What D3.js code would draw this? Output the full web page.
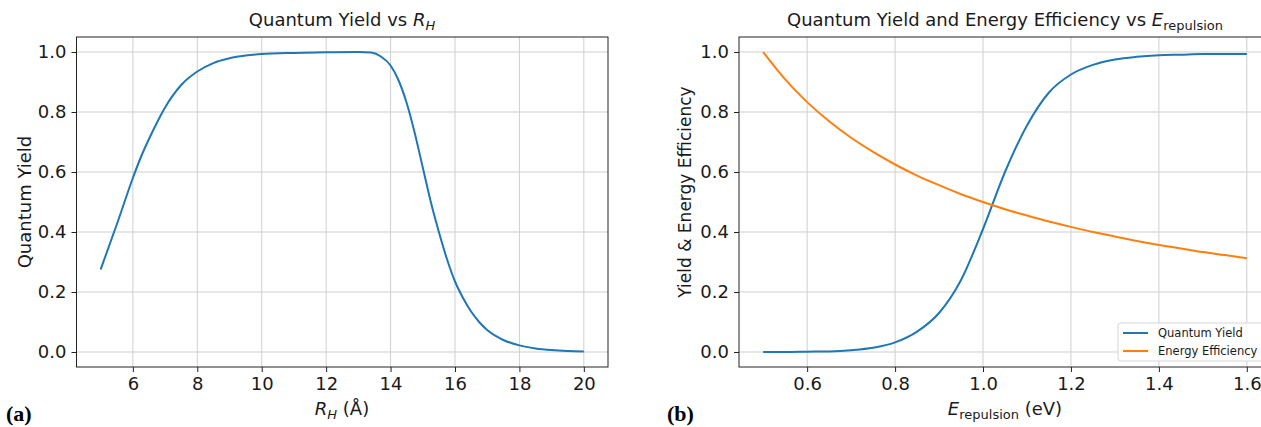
<!DOCTYPE html>
<html>
<head>
<meta charset="utf-8">
<script src="https://cdn.jsdelivr.net/npm/d3@7"></script>
<style>
  body { margin: 0; background: #fff; }
  svg { display: block; font-family: "DejaVu Sans", sans-serif; }
  .grid line { stroke: #cfcfcf; stroke-width: 1; }
  .tick text { font-size: 18px; fill: #1a1a1a; }
</style>
</head>
<body>
<div id="chart"></div>
<script>
// panel (a): quantum yield vs R_H
var rhVals = [5, 5.5, 6, 6.25, 6.5, 6.75, 7, 7.5, 8, 8.5, 9, 9.5, 10, 11, 12, 13, 13.4, 13.7, 14, 14.25, 14.5, 14.75, 15, 15.25, 15.5, 15.75, 16, 16.25, 16.5, 16.75, 17, 17.5, 18, 18.5, 19, 19.5, 20]
var yieldRh = [0.275, 0.425, 0.58, 0.65, 0.71, 0.765, 0.815, 0.89, 0.935, 0.963, 0.979, 0.988, 0.993, 0.997, 0.999, 1.0, 0.998, 0.985, 0.955, 0.905, 0.83, 0.73, 0.615, 0.50, 0.40, 0.31, 0.235, 0.18, 0.135, 0.1, 0.073, 0.04, 0.022, 0.012, 0.0065, 0.0035, 0.002]
var rhTicks = [6, 8, 10, 12, 14, 16, 18, 20]

// panel (b): yield and energy efficiency vs E_repulsion
var eVals = [0.5, 0.55, 0.6, 0.65, 0.7, 0.75, 0.8, 0.85, 0.9, 0.95, 1.0, 1.05, 1.1, 1.15, 1.2, 1.25, 1.3, 1.35, 1.4, 1.45, 1.5, 1.55, 1.6]
var yieldE = [0.0, 0.0, 0.001, 0.002, 0.006, 0.014, 0.032, 0.068, 0.13, 0.24, 0.41, 0.6, 0.755, 0.865, 0.925, 0.957, 0.975, 0.984, 0.989, 0.991, 0.993, 0.993, 0.993]
var effE = [1.0, 0.909, 0.833, 0.769, 0.714, 0.667, 0.625, 0.588, 0.556, 0.526, 0.5, 0.476, 0.455, 0.435, 0.417, 0.4, 0.385, 0.37, 0.357, 0.345, 0.333, 0.323, 0.3125]
var eTicks = [0.6, 0.8, 1.0, 1.2, 1.4, 1.6]
var yTicks = [0.0, 0.2, 0.4, 0.6, 0.8, 1.0]
var seriesNames = ['Quantum Yield', 'Energy Efficiency']
var colors = ['#1f77b4', '#ff7f0e']

var W = 1261, H = 427
var svg = d3.select('#chart').append('svg').attr('width', W).attr('height', H)

function panel(o) {
  var x = d3.scaleLinear().domain(o.xdom).range([o.left, o.right])
  var y = d3.scaleLinear().domain([-0.05, 1.05]).range([367, 37])
  var g = svg.append('g')

  // grid
  var grid = g.append('g').attr('class', 'grid')
  grid.selectAll('.gx').data(o.xticks).enter().append('line')
    .attr('x1', d => x(d)).attr('x2', d => x(d)).attr('y1', 37).attr('y2', 367)
  grid.selectAll('.gy').data(yTicks).enter().append('line')
    .attr('x1', o.left).attr('x2', o.right).attr('y1', d => y(d)).attr('y2', d => y(d))

  // lines
  var line = d3.line().curve(d3.curveMonotoneX)
  o.series.forEach((s, i) => {
    g.append('path')
      .datum(o.xs.map((v, j) => [v, s[j]]))
      .attr('d', line.x(d => x(d[0])).y(d => y(d[1])))
      .attr('fill', 'none').attr('stroke', colors[i]).attr('stroke-width', 2)
  })

  // axes
  var xa = g.append('g').attr('transform', 'translate(0,367)')
    .call(d3.axisBottom(x).tickValues(o.xticks).tickFormat(o.xfmt).tickSize(5).tickPadding(5))
  var ya = g.append('g').attr('transform', 'translate(' + o.left + ',0)')
    .call(d3.axisLeft(y).tickValues(yTicks).tickFormat(d3.format('.1f')).tickSize(5).tickPadding(5))
  ;[xa, ya].forEach(a => {
    a.select('.domain').remove()
    a.selectAll('.tick line').attr('stroke', '#222')
    a.selectAll('.tick text').style('font-family', '"DejaVu Sans", sans-serif')
  })

  // spines
  g.append('rect').attr('x', o.left).attr('y', 37).attr('width', o.right - o.left).attr('height', 330)
    .attr('fill', 'none').attr('stroke', '#222').attr('stroke-width', 1)
  return { x: x, y: y, g: g }
}

var pa = panel({ xdom: [4.25, 20.75], left: 76.5, right: 608, xticks: rhTicks, xfmt: d3.format('d'),
  xs: rhVals, series: [yieldRh] })
var pb = panel({ xdom: [0.445, 1.655], left: 739, right: 1271, xticks: eTicks, xfmt: d3.format('.1f'),
  xs: eVals, series: [yieldE, effE] })

// titles
var t1 = svg.append('text').attr('x', 342).attr('y', 26).attr('text-anchor', 'middle').attr('font-size', 18).attr('fill', '#1a1a1a')
t1.append('tspan').text('Quantum Yield vs ')
t1.append('tspan').attr('font-style', 'italic').text('R')
t1.append('tspan').attr('font-style', 'italic').attr('font-size', 13).attr('dy', 4).text('H')

var t2 = svg.append('text').attr('x', 1005).attr('y', 26).attr('text-anchor', 'middle').attr('font-size', 18).attr('fill', '#1a1a1a')
t2.append('tspan').text('Quantum Yield and Energy Efficiency vs ')
t2.append('tspan').attr('font-style', 'italic').text('E')
t2.append('tspan').attr('font-size', 13).attr('dy', 4).text('repulsion')

// x labels
var xl1 = svg.append('text').attr('x', 342).attr('y', 415).attr('text-anchor', 'middle').attr('font-size', 18).attr('fill', '#1a1a1a')
xl1.append('tspan').attr('font-style', 'italic').text('R')
xl1.append('tspan').attr('font-style', 'italic').attr('font-size', 13).attr('dy', 4).text('H')
xl1.append('tspan').attr('dy', -4).text(' (Å)')

var xl2 = svg.append('text').attr('x', 1005).attr('y', 415).attr('text-anchor', 'middle').attr('font-size', 18).attr('fill', '#1a1a1a')
xl2.append('tspan').attr('font-style', 'italic').text('E')
xl2.append('tspan').attr('font-size', 13).attr('dy', 4).text('repulsion')
xl2.append('tspan').attr('dy', -4).text(' (eV)')

// y labels
svg.append('text').attr('transform', 'translate(31,202) rotate(-90)').attr('text-anchor', 'middle')
  .attr('font-size', 18).attr('fill', '#1a1a1a').text('Quantum Yield')
svg.append('text').attr('transform', 'translate(691,192) rotate(-90)').attr('text-anchor', 'middle')
  .attr('font-size', 17).attr('fill', '#1a1a1a').text('Yield & Energy Efficiency')

// panel letters
svg.append('text').attr('x', 6).attr('y', 421).attr('font-family', '"Liberation Serif", serif')
  .attr('font-weight', 'bold').attr('font-size', 22).text('(a)')
svg.append('text').attr('x', 667).attr('y', 421).attr('font-family', '"Liberation Serif", serif')
  .attr('font-weight', 'bold').attr('font-size', 22).text('(b)')

// legend
var lg = svg.append('g').attr('transform', 'translate(1118,323)')
lg.append('rect').attr('width', 150).attr('height', 38).attr('rx', 3)
  .attr('fill', 'rgba(255,255,255,0.8)').attr('stroke', '#d6d6d6')
seriesNames.forEach((n, i) => {
  lg.append('line').attr('x1', 5).attr('x2', 30).attr('y1', 10 + i * 18).attr('y2', 10 + i * 18)
    .attr('stroke', colors[i]).attr('stroke-width', 2)
  lg.append('text').attr('x', 40).attr('y', 14 + i * 18).attr('font-size', 11.5).attr('fill', '#1a1a1a').text(n)
})
</script>
</body>
</html>
